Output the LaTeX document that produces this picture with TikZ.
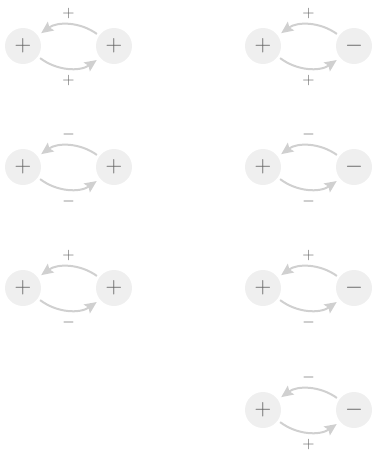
\documentclass[tikz,border=0pt]{standalone}
\usetikzlibrary{arrows.meta}

\definecolor{circfill}{HTML}{EFEFEF}
\definecolor{signgray}{HTML}{606060}
\definecolor{arrgray}{HTML}{D0D0D0}

\tikzset{
  sign/.style={circle, fill=circfill, minimum size=36*0.75pt, inner sep=0pt,
    text=signgray, font=\fontsize{19}{19}\selectfont},
  arclabel/.style={text=signgray, font=\fontsize{13}{13}\selectfont},
  feedback/.style={arrgray, line width=1.5pt,
    -{Stealth[length=9pt, width=8pt, inset=1.5pt]}},
}

\begin{document}
\begin{tikzpicture}[x=0.75pt, y=-0.75pt]

  \useasboundingbox (0,0) rectangle (372,450);

  % --- pairs: column x / row y / second sign / top label / bottom label ---
  \foreach \n/\x/\y/\s/\t/\b in {
      a/23/46/+/+/+,   b/23/167/+/-/-,   c/23/288/+/+/-,
      d/263/46/-/+/+,  e/263/167/-/-/-,  f/263/288/-/+/-,
      g/263/410/-/-/+}{

    \node[sign] (l\n) at (\x,\y) {$+$};
    \node[sign] (r\n) at (\x+91,\y) {$\s$};

    % --- arcs between the two signs ---
    \draw[feedback, shorten <=2pt, shorten >=3pt] (r\n.145) to[bend right=36] (l\n.35);
    \draw[feedback, shorten <=2pt, shorten >=3pt] (l\n.-35) to[bend right=36] (r\n.-140);

    \node[arclabel] (t\n) at (\x+45.5,\y-33) {$\t$};
    \node[arclabel] (b\n) at (\x+45.5,\y+34) {$\b$};
  }

\end{tikzpicture}
\end{document}
